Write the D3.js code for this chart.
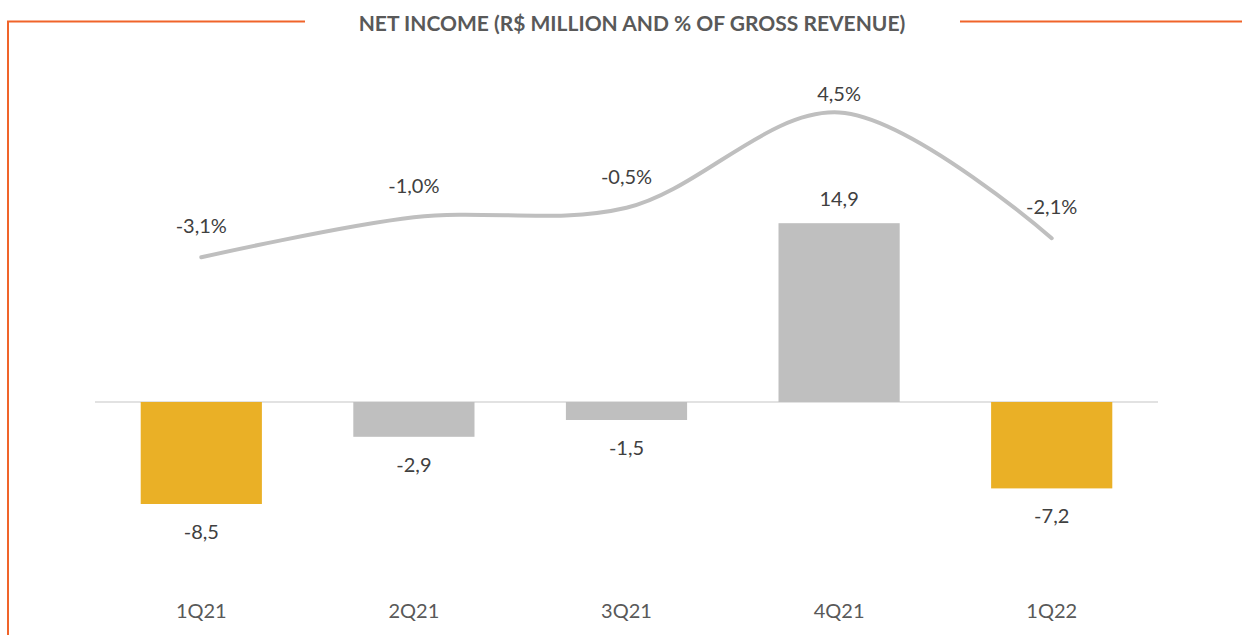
<!DOCTYPE html>
<meta charset="utf-8">
<script src="https://d3js.org/d3.v7.min.js"></script>
<style>
  body { margin: 0; background: #fff; }
  text { font-family: Lato, "Open Sans", sans-serif; }
</style>
<div id="my_dataviz"></div>
<script>

// data
var quarters = ["1Q21", "2Q21", "3Q21", "4Q21", "1Q22"];
var netIncome = [-8.5, -2.9, -1.5, 14.9, -7.2];
var marginPct = [-3.1, -1.0, -0.5, 4.5, -2.1];
var highlight = ["1Q21", "1Q22"];

var width = 1242, height = 635;

var svg = d3.select("#my_dataviz")
  .append("svg")
    .attr("width", width)
    .attr("height", height);

// orange frame pieces
var orange = "#F0642A";
svg.append("path")
  .attr("d", "M8,635 V21.5 H305")
  .attr("fill", "none")
  .attr("stroke", orange)
  .attr("stroke-width", 2);
svg.append("line")
  .attr("x1", 960).attr("x2", 1242).attr("y1", 21.5).attr("y2", 21.5)
  .attr("stroke", orange)
  .attr("stroke-width", 2);

// title
svg.append("text")
  .attr("x", 632).attr("y", 31)
  .attr("text-anchor", "middle")
  .style("font-size", "21px")
  .style("font-weight", "bold")
  .style("fill", "#595959")
  .text("NET INCOME (R$ MILLION AND % OF GROSS REVENUE)");

// comma decimals, plain hyphen for negatives
var fmt = function(d) { return d3.format(".1f")(d).replace(".", ",").replace("\u2212", "-"); };

// scales
var x = d3.scaleBand()
  .domain(quarters)
  .range([95, 1158])
  .paddingInner(0.43)
  .paddingOuter(0.215);

var y = d3.scaleLinear()
  .domain([-15, 20])
  .range([582, 162]);

var y2 = d3.scaleLinear()
  .domain([-15, 10])
  .range([484, 7.7]);

// zero line
svg.append("line")
  .attr("x1", 95).attr("x2", 1158)
  .attr("y1", y(0)).attr("y2", y(0))
  .attr("stroke", "#d9d9d9")
  .attr("stroke-width", 1.5);

// bars
svg.append("g")
  .selectAll("rect")
  .data(netIncome)
  .enter()
  .append("rect")
    .attr("x", function(d, i) { return x(quarters[i]); })
    .attr("width", x.bandwidth())
    .attr("y", function(d) { return y(Math.max(0, d)); })
    .attr("height", function(d) { return Math.abs(y(d) - y(0)); })
    .style("fill", function(d, i) { return highlight.indexOf(quarters[i]) >= 0 ? "#EAB026" : "#BFBFBF"; });

// bar labels
svg.append("g")
  .selectAll("text")
  .data(netIncome)
  .enter()
  .append("text")
    .attr("x", function(d, i) { return x(quarters[i]) + x.bandwidth() / 2; })
    .attr("y", function(d) { return d >= 0 ? y(d) - 17 : y(d) + 35; })
    .attr("text-anchor", "middle")
    .style("font-size", "20px")
    .style("fill", "#404040")
    .text(fmt);

// margin line
var line = d3.line()
  .x(function(d, i) { return x(quarters[i]) + x.bandwidth() / 2; })
  .y(function(d) { return y2(d); })
  .curve(d3.curveCatmullRom.alpha(0.5));

svg.append("path")
  .datum(marginPct)
  .attr("d", line)
  .attr("fill", "none")
  .attr("stroke", "#BFBFBF")
  .attr("stroke-width", 4)
  .attr("stroke-linecap", "round");

// labels above the line, kept inside the plot area at the top
svg.append("g")
  .selectAll("text")
  .data(marginPct)
  .enter()
  .append("text")
    .attr("x", function(d, i) { return x(quarters[i]) + x.bandwidth() / 2; })
    .attr("y", function(d) { return Math.max(y2(d) - 24, 101); })
    .attr("text-anchor", "middle")
    .style("font-size", "20px")
    .style("fill", "#404040")
    .text(function(d) { return fmt(d) + "%"; });

// category labels
svg.append("g")
  .selectAll("text")
  .data(quarters)
  .enter()
  .append("text")
    .attr("x", function(d) { return x(d) + x.bandwidth() / 2; })
    .attr("y", 618)
    .attr("text-anchor", "middle")
    .style("font-size", "20px")
    .style("fill", "#595959")
    .text(function(d) { return d; });

</script>
